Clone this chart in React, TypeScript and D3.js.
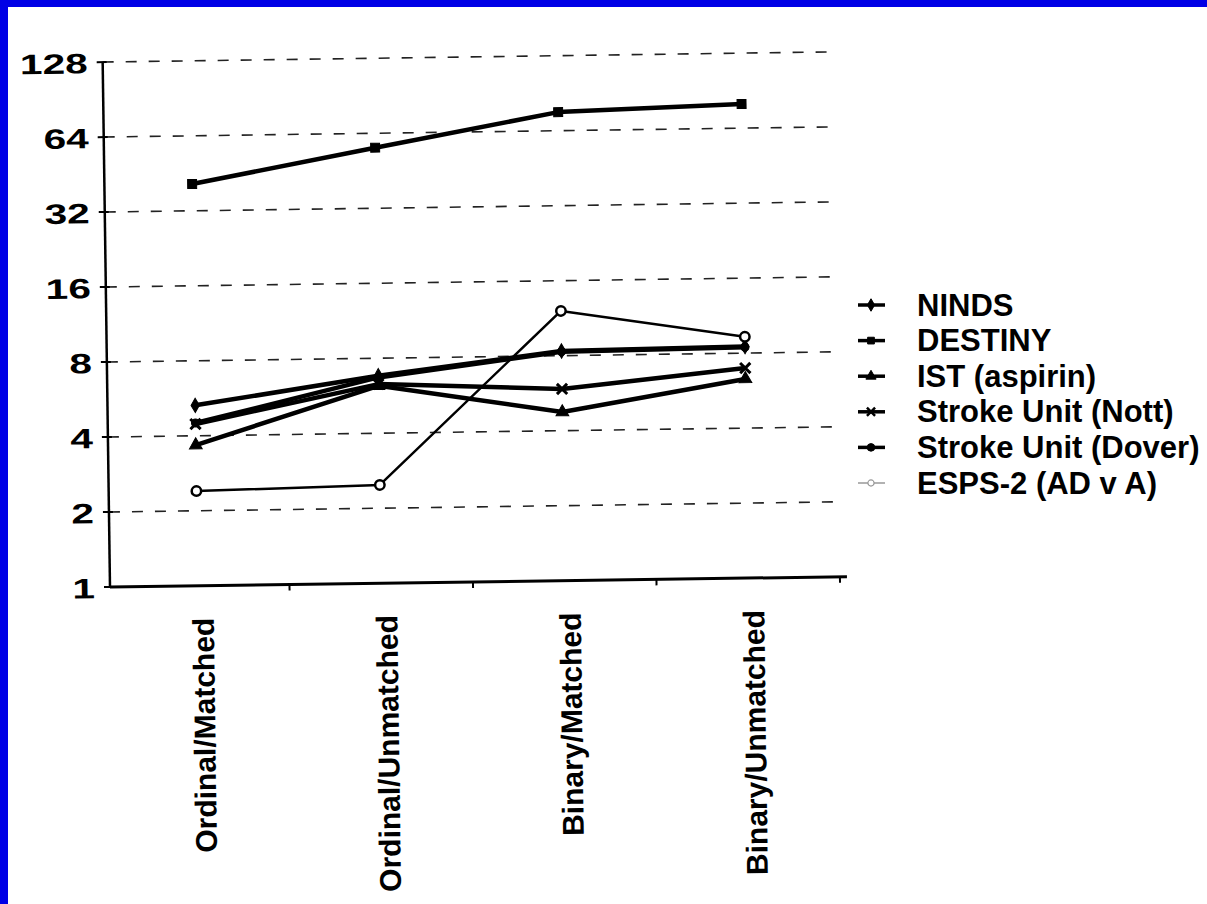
import React, { useRef, useEffect } from 'react';
import * as d3 from 'd3';

const categories = ['Ordinal/Matched', 'Ordinal/Unmatched', 'Binary/Matched', 'Binary/Unmatched'];
const yTicks = [1, 2, 4, 8, 16, 32, 64, 128];

const ninds = [5.3, 6.8, 8.35, 8.5];
const destiny = [41, 56, 76, 80];
const istAspirin = [3.67, 6.2, 4.75, 6.3];
const strokeNott = [4.46, 6.3, 5.88, 6.97];
const strokeDover = [4.5, 6.7, 8.3, 8.45];
const esps2 = [2.4, 2.48, 12.1, 9.3];

const seriesNames = ['NINDS', 'DESTINY', 'IST (aspirin)', 'Stroke Unit (Nott)', 'Stroke Unit (Dover)', 'ESPS-2 (AD v A)'];
const seriesValues = [ninds, destiny, istAspirin, strokeNott, strokeDover, esps2];

const W = 1207;
const H = 904;

const Chart: React.FC = () => {
    const svgRef = useRef<SVGSVGElement>(null);

    useEffect(() => {
        if (!svgRef.current) return;
        const svg = d3.select(svgRef.current);
        svg.selectAll('*').remove();

        const font = '"Liberation Sans", Arial, Helvetica, sans-serif';

        svg.append('rect').attr('width', W).attr('height', H).attr('fill', '#fff');
        // blue frame from the slide
        svg.append('rect').attr('x', 0).attr('y', 0).attr('width', W).attr('height', 7).attr('fill', '#0000e6');
        svg.append('rect').attr('x', 0).attr('y', 0).attr('width', 8).attr('height', H).attr('fill', '#0000e6');

        const x0 = 110;
        const xScale = d3.scaleBand<string>().domain(categories).range([106, 840]);
        const yScale = d3.scaleLog().base(2).domain([1, 128]).range([587, 62]);
        const cx = (c: string) => (xScale(c) as number) + xScale.bandwidth() / 2;

        // the scan is slightly tilted
        const g = svg.append('g').attr('transform', `rotate(-0.8, ${x0}, 587)`);

        // dashed gridlines
        g.selectAll('line.grid')
            .data(yTicks.slice(1))
            .join('line')
            .attr('class', 'grid')
            .attr('x1', x0)
            .attr('x2', 838)
            .attr('y1', d => yScale(d))
            .attr('y2', d => yScale(d))
            .attr('stroke', '#222')
            .attr('stroke-width', 1.6)
            .attr('stroke-dasharray', '11 12');

        // y axis
        g.append('line')
            .attr('x1', x0).attr('x2', x0)
            .attr('y1', yScale(128)).attr('y2', yScale(1))
            .attr('stroke', '#000').attr('stroke-width', 2.5);
        g.selectAll('line.ytick')
            .data(yTicks)
            .join('line')
            .attr('class', 'ytick')
            .attr('x1', x0 - 6).attr('x2', x0 + 4)
            .attr('y1', d => yScale(d)).attr('y2', d => yScale(d))
            .attr('stroke', '#000').attr('stroke-width', 2);
        g.selectAll('text.ylab')
            .data(yTicks)
            .join('text')
            .attr('class', 'ylab')
            .attr('transform', d => `translate(95, ${yScale(d) + 1}) scale(1.45, 1)`)
            .attr('text-anchor', 'end')
            .attr('dominant-baseline', 'central')
            .attr('font-family', font)
            .attr('font-weight', 'bold')
            .attr('font-size', 28)
            .text(d => String(d));

        // x axis
        g.append('line')
            .attr('x1', x0).attr('x2', 847)
            .attr('y1', yScale(1)).attr('y2', yScale(1))
            .attr('stroke', '#000').attr('stroke-width', 3);
        g.selectAll('line.xtick')
            .data(categories)
            .join('line')
            .attr('class', 'xtick')
            .attr('x1', d => (xScale(d) as number) + xScale.bandwidth())
            .attr('x2', d => (xScale(d) as number) + xScale.bandwidth())
            .attr('y1', yScale(1)).attr('y2', yScale(1) + 6)
            .attr('stroke', '#000').attr('stroke-width', 2);
        g.selectAll('text.xlab')
            .data(categories)
            .join('text')
            .attr('class', 'xlab')
            .attr('transform', d => `translate(${cx(d) + 5}, 619) rotate(-90)`)
            .attr('text-anchor', 'end')
            .attr('dominant-baseline', 'central')
            .attr('font-family', font)
            .attr('font-weight', 'bold')
            .attr('font-size', 30)
            .text(d => d);

        const line = d3.line<number>()
            .x((_, i) => cx(categories[i]))
            .y(d => yScale(d));

        const symbols = [d3.symbolDiamond, d3.symbolSquare, d3.symbolTriangle, d3.symbolTimes, d3.symbolCircle, d3.symbolCircle];
        const sizes = [60, 80, 70, 70, 50, 70];

        seriesValues.forEach((vals, si) => {
            const isEsps = si === 5;
            g.append('path')
                .datum(vals)
                .attr('d', line)
                .attr('fill', 'none')
                .attr('stroke', '#000')
                .attr('stroke-width', isEsps ? 2.5 : 4.5)
                .attr('stroke-linejoin', 'round');
            g.selectAll(`path.m${si}`)
                .data(vals)
                .join('path')
                .attr('class', `m${si}`)
                .attr('transform', (d, i) => `translate(${cx(categories[i])}, ${yScale(d)})`)
                .attr('d', d3.symbol().type(symbols[si]).size(sizes[si])())
                .attr('fill', isEsps ? '#fff' : '#000')
                .attr('stroke', '#000')
                .attr('stroke-width', isEsps ? 2.5 : si === 3 ? 3 : 1);
        });

        // legend
        const legendRow = d3.scalePoint<string>().domain(seriesNames).range([305, 483]);
        const lg = svg.append('g');
        seriesNames.forEach((name, si) => {
            const y = legendRow(name) as number;
            const isEsps = si === 5;
            lg.append('line')
                .attr('x1', 858).attr('x2', 885)
                .attr('y1', y).attr('y2', y)
                .attr('stroke', isEsps ? '#999' : '#000')
                .attr('stroke-width', isEsps ? 1.5 : 3.5);
            lg.append('path')
                .attr('transform', `translate(871, ${y})`)
                .attr('d', d3.symbol().type(symbols[si]).size(isEsps ? 30 : 45)())
                .attr('fill', isEsps ? '#fff' : '#000')
                .attr('stroke', isEsps ? '#999' : '#000')
                .attr('stroke-width', isEsps ? 1.2 : si === 3 ? 2.5 : 1);
            lg.append('text')
                .attr('x', 917)
                .attr('y', y)
                .attr('dominant-baseline', 'central')
                .attr('font-family', font)
                .attr('font-weight', 'bold')
                .attr('font-size', 31)
                .text(name);
        });
    }, []);

    return <svg ref={svgRef} width={W} height={H} viewBox={`0 0 ${W} ${H}`} style={{ display: 'block' }} />;
};

export default function App() {
    return (
        <div style={{ position: 'fixed', left: 0, top: 0, width: W, height: H }}>
            <Chart />
        </div>
    );
}
